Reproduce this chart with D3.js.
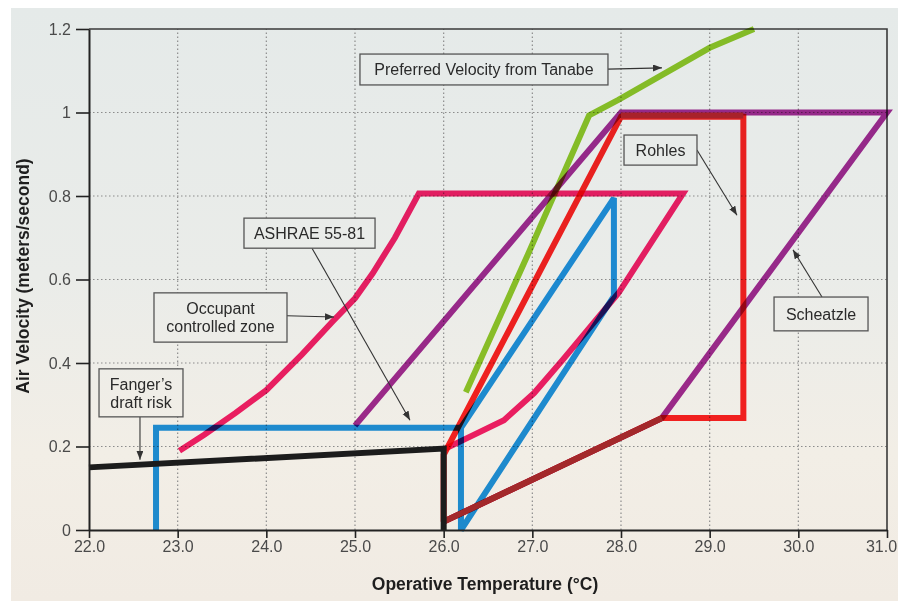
<!DOCTYPE html>
<html><head><meta charset="utf-8">
<script src="https://cdn.jsdelivr.net/npm/d3@7"></script>
<style>html,body{margin:0;padding:0;background:#fff}svg{display:block}</style>
</head><body><svg id="chart" width="898" height="601"></svg>
<script>
// ---------- data ----------
const xTicks = [22, 23, 24, 25, 26, 27, 28, 29, 30, 31];
const xTickLabels = ["22.0","23.0","24.0","25.0","26.0","27.0","28.0","29.0","30.0","31.0"];
const yTicks = [0, 0.2, 0.4, 0.6, 0.8, 1, 1.2];
const yTickLabels = ["0","0.2","0.4","0.6","0.8","1","1.2"];

// Fanger's draft risk
const fangerT = [22, 26, 26];
const fangerV = [0.15, 0.195, 0];
// ASHRAE 55-81
const ashraeT = [22.756, 22.756, 26.195, 26.195, 27.92, 27.92, 26.195];
const ashraeV = [0, 0.245, 0.245, 0, 0.56, 0.795, 0.245];
// Occupant controlled zone
const occupantT = [23.02, 23.3, 23.65, 24.0, 24.4, 24.75, 25.0, 25.2, 25.45, 25.72, 28.7, 27.97, 27.34, 27.02, 26.68, 26.02];
const occupantV = [0.19, 0.228, 0.28, 0.335, 0.42, 0.5, 0.555, 0.615, 0.7, 0.806, 0.806, 0.567, 0.407, 0.328, 0.263, 0.195];
// Scheatzle
const scheatzleT = [25.0, 28.0, 31.0, 28.46, 26.0];
const scheatzleV = [0.25, 1.0, 1.0, 0.268, 0.02];
// Rohles
const rohlesT = [26.0, 26.0, 28.0, 29.38, 29.38, 28.46, 26.0];
const rohlesV = [0.02, 0.18, 0.99, 0.99, 0.268, 0.268, 0.02];
// Shared Rohles / Scheatzle segments (overprinted)
const sharedLowT = [26.0, 28.46];
const sharedLowV = [0.02, 0.268];
const sharedTopT = [28.0, 29.38];
const sharedTopV = [0.993, 0.993];
// Preferred Velocity from Tanabe
const tanabeT = [26.25, 26.95, 27.64, 27.97, 29.0, 29.5];
const tanabeV = [0.33, 0.66, 0.993, 1.03, 1.155, 1.2];

// annotation labels
const annoLabels = [["Preferred Velocity from Tanabe"], ["ASHRAE 55-81"], ["Occupant", "controlled zone"],
                    ["Fanger\u2019s", "draft risk"], ["Rohles"], ["Scheatzle"]];
// annotation boxes [T0, T1, Vtop, Vbottom] and leader lines [T0,V0,T1,V1] in data units
const annoBoxes = [[25.056, 27.853, 1.140, 1.066], [23.748, 25.226, 0.747, 0.675], [22.733, 24.233, 0.568, 0.450],
                   [22.113, 23.060, 0.386, 0.271], [28.034, 28.857, 0.946, 0.874], [29.726, 30.786, 0.558, 0.477]];
const annoLeaders = [[27.853, 1.104, 28.462, 1.107], [24.515, 0.675, 25.620, 0.263], [24.233, 0.513, 24.763, 0.510],
                     [22.575, 0.271, 22.575, 0.168], [28.857, 0.910, 29.308, 0.754], [30.267, 0.558, 29.940, 0.671]];

// ---------- drawing ----------
const W = 898, H = 601;
const svg = d3.select("#chart");
const FONT = "'Liberation Sans', Arial, Helvetica, sans-serif";

const defs = svg.append("defs");
const grad = defs.append("linearGradient").attr("id", "bg").attr("gradientUnits", "userSpaceOnUse")
  .attr("x1", 0).attr("y1", 8).attr("x2", 0).attr("y2", 601);
grad.append("stop").attr("offset", 0).attr("stop-color", "#e5eae9");
grad.append("stop").attr("offset", 0.45).attr("stop-color", "#eaece9");
grad.append("stop").attr("offset", 0.75).attr("stop-color", "#f2eee6");
grad.append("stop").attr("offset", 1).attr("stop-color", "#f1ebe3");
defs.append("marker").attr("id", "arr").attr("markerUnits", "userSpaceOnUse")
  .attr("markerWidth", 10).attr("markerHeight", 8).attr("refX", 9).attr("refY", 3.5).attr("orient", "auto")
  .append("path").attr("d", "M0,0 L9,3.5 L0,7 Z").attr("fill", "#333");

svg.append("rect").attr("width", W).attr("height", H).attr("fill", "#ffffff");
svg.append("rect").attr("x", 11).attr("y", 8).attr("width", W - 11).attr("height", H - 8).attr("fill", "url(#bg)");

const x = d3.scaleLinear().domain([22, 31]).range([89, 887]);
const y = d3.scaleLinear().domain([0, 1.2]).range([530, 29]);

// grid
const grid = svg.append("g");
grid.selectAll("line.gx").data(xTicks.slice(1, -1)).join("line")
  .attr("x1", d => x(d)).attr("x2", d => x(d)).attr("y1", y(0)).attr("y2", y(1.2))
  .attr("stroke", "#8c8c8c").attr("stroke-width", 1.2).attr("stroke-dasharray", "1.5,2.5");
grid.selectAll("line.gy").data(yTicks.slice(1, -1)).join("line")
  .attr("y1", d => y(d)).attr("y2", d => y(d)).attr("x1", x(22)).attr("x2", x(31))
  .attr("stroke", "#8c8c8c").attr("stroke-width", 1.2).attr("stroke-dasharray", "1.5,2.5");
// frame top / right
svg.append("path").attr("d", `M${x(22)},${y(1.2)}H${x(31)}V${y(0)}`)
  .attr("fill", "none").attr("stroke", "#3a3a3a").attr("stroke-width", 1.6);

// series lines
const line = d3.line().x(d => x(d[0])).y(d => y(d[1]));
const zipS = (T, V) => T.map((t, i) => [t, V[i]]);
const series = [
  {T: ashraeT, V: ashraeV, c: "#1f94e4", blend: "multiply"},
  {T: occupantT, V: occupantV, c: "#f8206a", blend: "multiply"},
  {T: scheatzleT, V: scheatzleV, c: "#a42c96", blend: "multiply"},
  {T: rohlesT, V: rohlesV, c: "#ff2222", blend: "multiply"},
  {T: tanabeT, V: tanabeV, c: "#92cc2a", blend: "multiply"},
  {T: sharedLowT, V: sharedLowV, c: "#a3292b", blend: "normal"},
  {T: sharedTopT, V: sharedTopV, c: "#a8222a", blend: "normal"},
  {T: fangerT, V: fangerV, c: "#1c1c1c", blend: "normal"}
];
const lg = svg.append("g");
series.forEach(s => {
  lg.append("path").attr("d", line(zipS(s.T, s.V)))
    .attr("fill", "none").attr("stroke", s.c).attr("stroke-width", 6)
    .attr("stroke-linejoin", "miter").attr("stroke-miterlimit", 3)
    .style("mix-blend-mode", s.blend);
});

// axes
const xAxis = d3.axisBottom(x).tickValues(xTicks).tickFormat((d, i) => xTickLabels[i])
  .tickSize(8).tickSizeOuter(0).tickPadding(3);
const yAxis = d3.axisLeft(y).tickValues(yTicks).tickFormat((d, i) => yTickLabels[i])
  .tickSize(13).tickSizeOuter(0).tickPadding(5);
const gx = svg.append("g").attr("transform", `translate(0,${y(0)})`).call(xAxis);
const gy = svg.append("g").attr("transform", `translate(${x(22)},0)`).call(yAxis);
[gx, gy].forEach(g => {
  g.select(".domain").attr("stroke", "#222").attr("stroke-width", 2);
  g.selectAll(".tick line").attr("stroke", "#222").attr("stroke-width", 1.6);
  g.selectAll(".tick text").attr("fill", "#4a4a4a").style("font-family", FONT).style("font-size", "16px");
});
// keep the last x label inside the picture
gx.selectAll(".tick text").filter((d, i) => i === xTicks.length - 1).attr("dx", -6);

// axis titles
svg.append("text").attr("x", 485).attr("y", 590).attr("text-anchor", "middle")
  .style("font-family", FONT).style("font-size", "17.5px").style("font-weight", "bold").attr("fill", "#1e1e1e")
  .text("Operative Temperature (\u00B0C)");
svg.append("text").attr("transform", "translate(29,276) rotate(-90)").attr("text-anchor", "middle")
  .style("font-family", FONT).style("font-size", "17.5px").style("font-weight", "bold").attr("fill", "#1e1e1e")
  .text("Air Velocity (meters/second)");

// annotations
const ag = svg.append("g");
annoLabels.forEach((lines, i) => {
  const [t0, t1, v0, v1] = annoBoxes[i];
  const bx = x(t0), bw = x(t1) - x(t0), by = y(v0), bh = y(v1) - y(v0);
  const [lt0, lv0, lt1, lv1] = annoLeaders[i];
  ag.append("line").attr("x1", x(lt0)).attr("y1", y(lv0)).attr("x2", x(lt1)).attr("y2", y(lv1))
    .attr("stroke", "#333").attr("stroke-width", 1.1).attr("marker-end", "url(#arr)");
  ag.append("rect").attr("x", bx).attr("y", by).attr("width", bw).attr("height", bh)
    .attr("fill", "url(#bg)").attr("stroke", "#555").attr("stroke-width", 1.3);
  const cx = bx + bw / 2, cy = by + bh / 2, lh = 18;
  lines.forEach((s, j) => {
    ag.append("text").attr("x", cx).attr("y", cy + (j - (lines.length - 1) / 2) * lh)
      .attr("dy", "0.36em").attr("text-anchor", "middle")
      .style("font-family", FONT).style("font-size", "16px").attr("fill", "#2a2a2a").text(s);
  });
});
</script></body></html>
